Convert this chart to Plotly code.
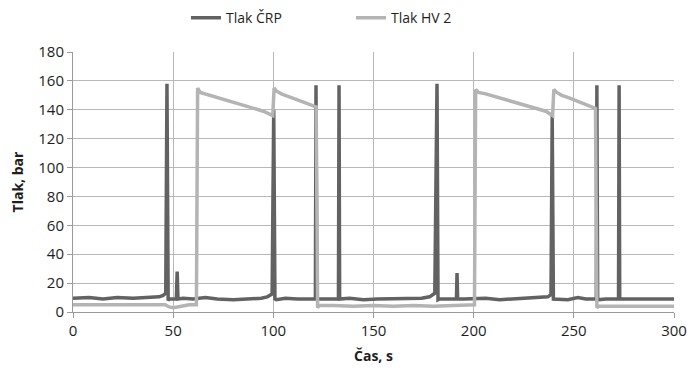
import plotly.graph_objects as go

# Tlak ČRP (pump pressure) – key points
crp_t = [0, 8, 15, 22, 30, 36, 40, 43, 45, 46.3, 46.9, 47.5, 48, 50, 51.6, 52.0, 52.4, 55, 60, 66, 72, 80, 88, 94, 97, 99.4, 100.2,
         100.8, 101.5, 106, 112, 118, 121.0, 121.3, 121.7, 126, 132.5, 132.8, 133.1, 138, 145, 152, 160, 168, 174, 178, 180.6,
         181.7, 182.2, 183, 187, 191.4, 191.7, 192.0, 195, 200, 206, 213, 220, 228, 234, 237, 238.6, 239.2, 239.8, 242, 247,
         252, 256, 261.2, 261.5, 261.9, 266, 272.3, 272.6, 272.9, 278, 285, 292, 300]
crp_v = [9.5, 10, 9, 10, 9.5, 10, 10, 10.5, 11.5, 13, 158, 8, 9, 9, 9, 28, 9, 9.5, 9, 10, 9, 8.5, 9, 9.5, 10.5, 12.5, 140,
         9, 8.5, 9.5, 9, 9, 9, 157, 9, 9, 9, 157, 9, 9.5, 8.5, 9, 9, 9, 9.5, 10.5, 13,
         158, 8.5, 9, 9, 9, 27, 9, 9, 9, 9.5, 8.5, 9, 9.5, 10, 10.5, 12, 136, 9, 9, 8.5,
         10, 9, 9, 157, 8.5, 9, 9, 157, 9, 9, 9.5, 9, 9]

# Tlak HV 2 (accumulator pressure)
hv_t = [0, 8, 15, 22, 30, 36, 42, 46, 48, 50, 52, 55, 58, 61.6, 62.2, 63.5, 66, 70, 75, 80, 85, 90, 95, 99.7, 100.4,
        101.5, 104, 108, 112, 116, 119, 121.4, 122.1, 123, 130, 140, 150, 160, 170, 180, 190, 196, 200.4, 201.0,
        202.5, 206, 211, 216, 221, 226, 231, 236, 239.4, 240.0, 241.5, 244, 248, 252, 256, 260.8, 261.5, 262.5,
        270, 280, 290, 300]
hv_v = [5, 5, 4.5, 5, 4.5, 5, 4.5, 5, 3.5, 3, 3.5, 4.5, 5, 5, 155, 152, 151, 149, 147, 145, 143, 141, 139, 136, 155,
        153, 151, 149, 147, 145, 143.5, 142, 3, 4.5, 4.5, 4, 4.5, 4, 4.5, 4, 4.5, 5, 5, 154,
        152, 151, 149, 147, 145, 143, 141, 139, 136, 154, 152, 150, 148, 146, 144, 141, 3, 4,
        4, 4, 4, 4]

x_ticks = [0, 50, 100, 150, 200, 250, 300]
y_ticks = [0, 20, 40, 60, 80, 100, 120, 140, 160, 180]

FONT = "Open Sans"
TXT = "#1e1e1e"
fig = go.Figure()
fig.add_trace(go.Scatter(x=crp_t, y=crp_v, mode="lines", name="Tlak ČRP",
                         line=dict(color="#626262", width=3.5)))
fig.add_trace(go.Scatter(x=hv_t, y=hv_v, mode="lines", name="Tlak HV 2",
                         line=dict(color="#b4b4b4", width=3.5)))

axis_common = dict(showgrid=True, gridcolor="#b8b8b8", gridwidth=1, showline=True, linecolor="#9a9a9a",
                   linewidth=1, ticks="outside", ticklen=5, tickcolor="#9a9a9a", zeroline=False,
                   automargin=False, tickfont=dict(family=FONT, size=15, color=TXT))
fig.update_xaxes(range=[0, 300], tickvals=x_ticks, **axis_common,
                 title=dict(text="<b>Čas, s</b>", font=dict(family=FONT, size=14, color=TXT), standoff=12))
fig.update_yaxes(range=[0, 180], tickvals=y_ticks, **axis_common,
                 title=dict(text="<b>Tlak, bar</b>", font=dict(family=FONT, size=14, color=TXT), standoff=16))

# page body has an 8px default margin, so the figure is 8px smaller than the window
fig.update_layout(
    width=688, height=368,
    margin=dict(l=65, r=22, t=44, b=64, autoexpand=False),
    plot_bgcolor="white", paper_bgcolor="white",
    legend=dict(orientation="h", x=0.188, xanchor="left", y=1.13, yanchor="middle",
                font=dict(family=FONT, size=14, color=TXT), entrywidth=120, entrywidthmode="pixels"),
    showlegend=True,
)
fig.write_html("out.html")
